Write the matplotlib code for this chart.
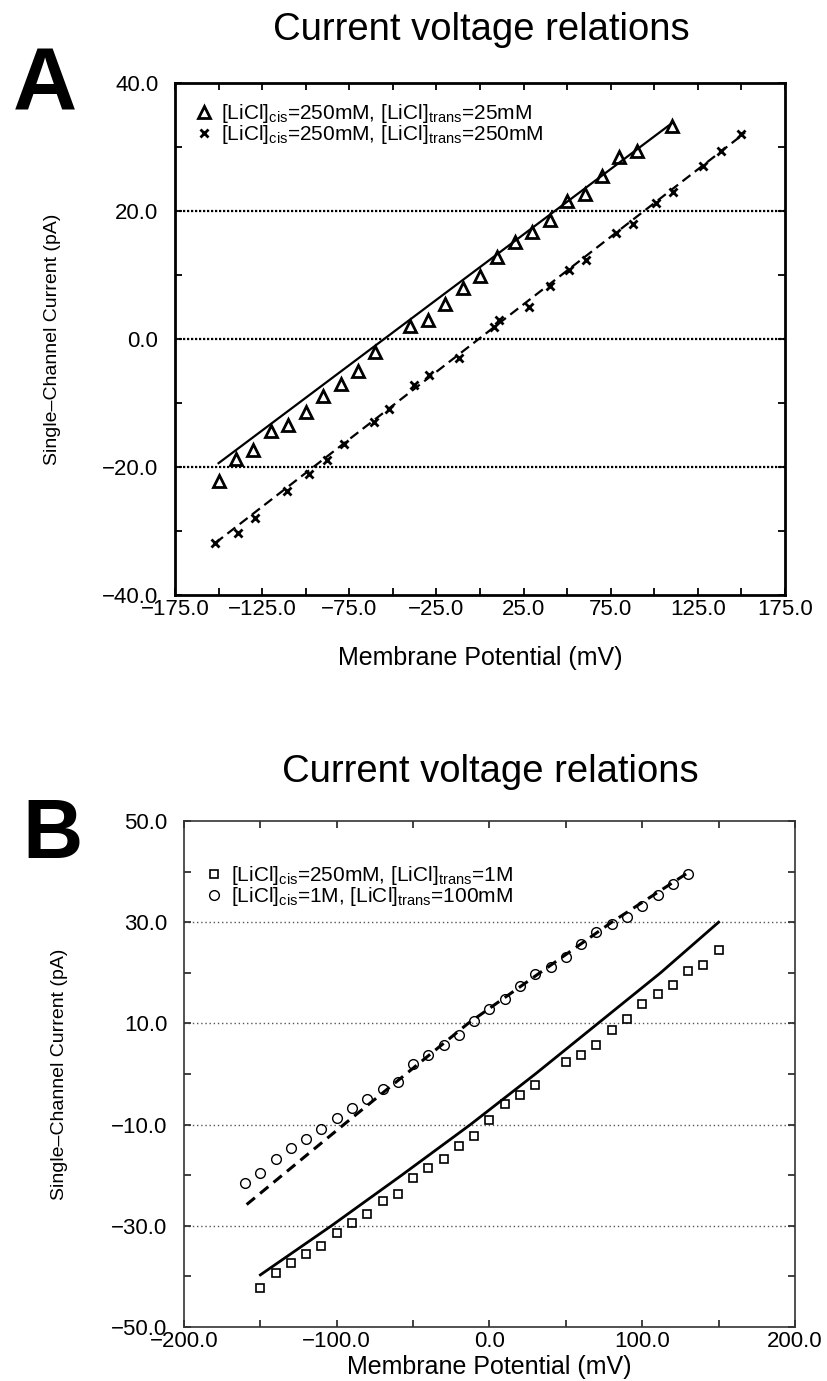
import matplotlib
matplotlib.use('Agg')
import matplotlib.pyplot as plt
from matplotlib.ticker import FixedLocator, FuncFormatter

plt.rcParams['font.family'] = ['Liberation Sans', 'DejaVu Sans']
plt.rcParams['mathtext.fontset'] = 'custom'
plt.rcParams['mathtext.rm'] = 'Liberation Sans'
plt.rcParams['mathtext.it'] = 'Liberation Sans:italic'
plt.rcParams['mathtext.bf'] = 'Liberation Sans:bold'

# ---------------- Panel A data ----------------
a_tri_v = [-150, -140, -130, -120, -110, -100, -90, -80, -70, -60, -40, -30, -20, -10,
           0, 10, 20, 30, 40, 50, 60, 70, 80, 90, 110]
a_tri_i = [-22.2, -18.8, -17.4, -14.3, -13.4, -11.4, -8.9, -7.0, -5.0, -2.0, 2.0, 2.9, 5.4, 7.9,
           9.9, 12.8, 15.2, 16.7, 18.6, 21.5, 22.6, 25.5, 28.4, 29.4, 33.3]
a_x_v = [-152, -139, -129, -111, -98, -88, -78, -61, -52, -38, -29, -12, 8, 11,
         28, 40, 51, 61, 78, 88, 101, 111, 128, 138, 150]
a_x_i = [-31.9, -30.3, -27.9, -23.7, -21.1, -18.9, -16.4, -12.9, -10.9, -7.2, -5.7, -3.0, 1.8, 2.9,
         5.0, 8.3, 10.8, 12.3, 16.6, 18.0, 21.3, 22.9, 27.0, 29.4, 32.0]
a_fit1_v = [-150, 110]
a_fit1_i = [-19.4, 33.7]
a_fit2_v = [-152, 152]
a_fit2_i = [-31.9, 32.2]
a_grid = [-20, 0, 20]
a_xticks = [-175, -125, -75, -25, 25, 75, 125, 175]
a_xminor = [-150, -100, -50, 0, 50, 100, 150]
a_yticks = [-40, -20, 0, 20, 40]
a_yminor = [-30, -10, 10, 30]
a_labels = [r'[LiCl]$_{\mathrm{cis}}$=250mM, [LiCl]$_{\mathrm{trans}}$=25mM',
            r'[LiCl]$_{\mathrm{cis}}$=250mM, [LiCl]$_{\mathrm{trans}}$=250mM']

# ---------------- Panel B data ----------------
b_sq_v = [-150, -140, -130, -120, -110, -100, -90, -80, -70, -60, -50, -40, -30, -20, -10,
          0, 10, 20, 30, 50, 60, 70, 80, 90, 100, 110, 120, 130, 140, 150]
b_sq_i = [-42.3, -39.4, -37.4, -35.5, -34.0, -31.5, -29.5, -27.6, -25.0, -23.7, -20.6, -18.6,
          -16.8, -14.3, -12.3, -9.0, -6.0, -4.1, -2.1, 2.4, 3.8, 5.8, 8.7, 10.8, 13.8, 15.8,
          17.6, 20.3, 21.6, 24.6]
b_ci_v = [-160, -150, -140, -130, -120, -110, -100, -90, -80, -70, -60, -50, -40, -30, -20,
          -10, 0, 10, 20, 30, 40, 50, 60, 70, 80, 90, 100, 110, 120, 130]
b_ci_i = [-21.6, -19.6, -16.7, -14.7, -12.8, -10.9, -8.7, -6.8, -5.0, -3.0, -1.6, 1.9, 3.8,
          5.8, 7.8, 10.5, 12.8, 14.8, 17.3, 19.7, 21.2, 23.2, 25.7, 28.1, 29.7, 31.0, 33.2,
          35.4, 37.5, 39.5]
b_fit1_v = [-150, -103.5, -57.5, -12.5, 30, 71, 112, 150]
b_fit1_i = [-39.7, -30.0, -20.0, -10.0, 0.0, 10.0, 20.0, 30.0]
b_fit2_v = [-159, -95.4, -14, 80, 129]
b_fit2_i = [-25.8, -10.0, 10.0, 30.0, 39.6]
b_grid = [-30, -10, 10, 30]
b_xticks = [-200, -100, 0, 100, 200]
b_xminor = [-150, -50, 50, 150]
b_yticks = [-50, -30, -10, 10, 30, 50]
b_yminor = [-40, -20, 0, 20, 40]
b_labels = [r'[LiCl]$_{\mathrm{cis}}$=250mM, [LiCl]$_{\mathrm{trans}}$=1M',
            r'[LiCl]$_{\mathrm{cis}}$=1M, [LiCl]$_{\mathrm{trans}}$=100mM']

title = 'Current voltage relations'
xlab = 'Membrane Potential (mV)'
ylab = 'Single\u2013Channel Current (pA)'

W, H = 828, 1381
fig = plt.figure(figsize=(W / 100, H / 100), dpi=100)


def box(l, t, r, b):
    return [l / W, 1 - b / H, (r - l) / W, (b - t) / H]


fmt = FuncFormatter(lambda v, p: ('%.1f' % v).replace('-', '\u2212'))


def style_axes(ax, xt, xm, yt, ym, spine_lw, spine_col, tick_col, xpad):
    ax.xaxis.set_major_locator(FixedLocator(xt))
    ax.xaxis.set_minor_locator(FixedLocator(xm))
    ax.yaxis.set_major_locator(FixedLocator(yt))
    ax.yaxis.set_minor_locator(FixedLocator(ym))
    ax.xaxis.set_major_formatter(fmt)
    ax.yaxis.set_major_formatter(fmt)
    for s in ax.spines.values():
        s.set_linewidth(spine_lw)
        s.set_color(spine_col)
    ax.tick_params(which='both', direction='in', top=True, right=True, length=5,
                   width=1.3, color=tick_col)
    ax.tick_params(axis='x', which='major', labelsize=16, pad=xpad)
    ax.tick_params(axis='y', which='major', labelsize=16, pad=12)


# ---------------- Panel A ----------------
axA = fig.add_axes(box(175, 83, 785, 595))
axA.set_xlim(-175, 175)
axA.set_ylim(-40, 40)
for g in a_grid:
    axA.axhline(g, color='black', lw=1.6, ls=(0, (1, 0.8)), zorder=1)
axA.plot(a_fit1_v, a_fit1_i, color='black', lw=1.6, zorder=2)
axA.plot(a_fit2_v, a_fit2_i, color='black', lw=1.6, ls=(0, (4.5, 2.5)), zorder=2)
hA1, = axA.plot(a_tri_v, a_tri_i, ls='none', marker='^', ms=9, mfc='none', mec='black',
                mew=2.0, zorder=3)
hA2, = axA.plot(a_x_v, a_x_i, ls='none', marker='x', ms=6, mec='black', mew=2.0, zorder=3)
style_axes(axA, a_xticks, a_xminor, a_yticks, a_yminor, 2.0, 'black', 'black', 3)
axA.set_xlabel(xlab, fontsize=18)
axA.xaxis.set_label_coords(0.5, -0.123)
axA.xaxis.label.set_va('center')
axA.set_ylabel(ylab, fontsize=14)
axA.yaxis.set_label_coords(-0.2, 0.5)
axA.yaxis.label.set_va('center')
legA = axA.legend([hA1, hA2], a_labels, loc='upper left', bbox_to_anchor=(0.034, 0.962),
                  frameon=False, fontsize=15, borderpad=0, borderaxespad=0,
                  handlelength=0.8, handletextpad=0.4, labelspacing=-0.1)

# ---------------- Panel B ----------------
axB = fig.add_axes(box(184, 821, 795, 1327))
axB.set_xlim(-200, 200)
axB.set_ylim(-50, 50)
for g in b_grid:
    axB.axhline(g, color='#555555', lw=1.0, ls=(0, (1, 2)), zorder=1)
axB.plot(b_fit1_v, b_fit1_i, color='black', lw=2.0, zorder=2)
axB.plot(b_fit2_v, b_fit2_i, color='black', lw=2.2, ls=(0, (3.5, 2.2)), zorder=2)
hB1, = axB.plot(b_sq_v, b_sq_i, ls='none', marker='s', ms=6, mfc='none', mec='black',
                mew=1.2, zorder=3)
hB2, = axB.plot(b_ci_v, b_ci_i, ls='none', marker='o', ms=7, mfc='none', mec='black',
                mew=1.0, zorder=3)
style_axes(axB, b_xticks, b_xminor, b_yticks, b_yminor, 1.2, '#333333', '#333333', 3)
axB.set_xlabel(xlab, fontsize=18)
axB.xaxis.set_label_coords(0.5, -0.08)
axB.xaxis.label.set_va('center')
axB.set_ylabel(ylab, fontsize=14)
axB.yaxis.set_label_coords(-0.203, 0.5)
axB.yaxis.label.set_va('center')
legB = axB.legend([hB1, hB2], b_labels, loc='upper left', bbox_to_anchor=(0.036, 0.915),
                  frameon=False, fontsize=15, borderpad=0, borderaxespad=0,
                  handlelength=0.8, handletextpad=0.4, labelspacing=-0.1)

# ---------------- Titles and panel letters ----------------
fig.text(481 / W, 1 - 30 / H, title, fontsize=27.5, ha='center', va='center')
fig.text(490 / W, 1 - 772 / H, title, fontsize=27.5, ha='center', va='center')
fig.text(45 / W, 1 - 88 / H, 'A', fontsize=64, fontweight='bold', ha='center', va='center')
fig.text(53 / W, 1 - 836 / H, 'B', fontsize=60, fontweight='bold', ha='center', va='center')

fig.savefig('out.png', dpi=100)
